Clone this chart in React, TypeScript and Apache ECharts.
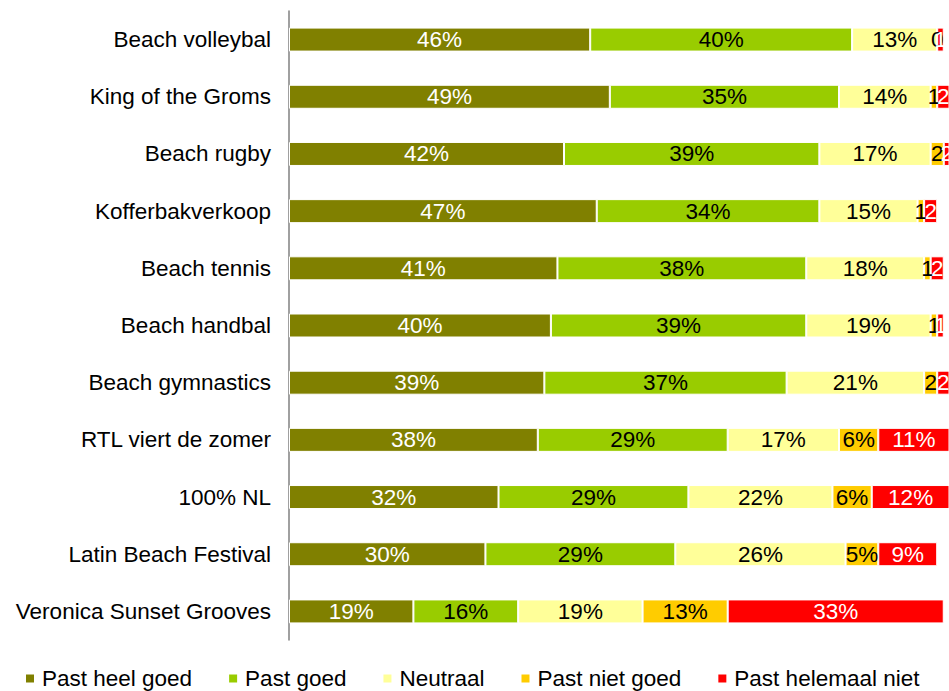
import React, { useEffect, useRef } from "react";
import * as echarts from "echarts";

const categories = [
  "Beach volleybal",
  "King of the Groms",
  "Beach rugby",
  "Kofferbakverkoop",
  "Beach tennis",
  "Beach handbal",
  "Beach gymnastics",
  "RTL viert de zomer",
  "100% NL",
  "Latin Beach Festival",
  "Veronica Sunset Grooves",
];

const seriesNames = ["Past heel goed", "Past goed", "Neutraal", "Past niet goed", "Past helemaal niet"];
const pastHeelGoed = [46, 49, 42, 47, 41, 40, 39, 38, 32, 30, 19];
const pastGoed = [40, 35, 39, 34, 38, 39, 37, 29, 29, 29, 16];
const neutraal = [13, 14, 17, 15, 18, 19, 21, 17, 22, 26, 19];
const pastNietGoed = [0, 1, 2, 1, 1, 1, 2, 6, 6, 5, 13];
const pastHelemaalNiet = [1, 2, 2, 2, 2, 1, 2, 11, 12, 9, 33];

const colors = ["#808000", "#99CC00", "#FFFF99", "#FFCC00", "#FF0000"];
const labelColors = ["#ffffff", "#000000", "#000000", "#000000", "#ffffff"];

const FONT = "'Liberation Sans', Arial, sans-serif";
const FS = 22.5;

export default function App() {
  const ref = useRef<HTMLDivElement>(null);
  useEffect(() => {
    if (!ref.current) return;
    const chart = echarts.init(ref.current, undefined, { renderer: "svg" });
    const values = [pastHeelGoed, pastGoed, neutraal, pastNietGoed, pastHelemaalNiet];
    chart.setOption({
      animation: false,
      textStyle: { fontFamily: FONT },
      grid: { left: 289, right: 0, top: 11, bottom: 51, containLabel: false },
      legend: {
        top: 667,
        left: 24,
        padding: 0,
        icon: "rect",
        itemWidth: 10,
        itemHeight: 10,
        itemGap: 35,
        textStyle: { fontSize: FS, color: "#000", fontFamily: FONT, padding: [0, 0, 0, 2] },
        data: seriesNames,
      },
      xAxis: { type: "value", min: 0, max: 100.8, show: false },
      yAxis: {
        type: "category",
        data: categories,
        inverse: true,
        axisLine: { show: true, lineStyle: { color: "#808080", width: 1.5 } },
        axisTick: { show: false },
        axisLabel: { fontSize: FS, color: "#000", margin: 18, fontFamily: FONT },
      },
      series: seriesNames.map((name, i) => ({
        name,
        type: "bar",
        stack: "total",
        barWidth: 24,
        itemStyle: { color: colors[i], borderColor: "#ffffff", borderWidth: 1 },
        label: {
          show: true,
          position: "inside",
          color: labelColors[i],
          fontSize: FS,
          fontFamily: FONT,
          formatter: (p: any) => (p.value < 3 ? String(p.value) : p.value + "%"),
        },
        data: values[i],
      })),
    });
    return () => chart.dispose();
  }, []);
  return <div ref={ref} style={{ width: 949, height: 691, position: "absolute", left: 0, top: 0, overflow: "hidden" }} />;
}
